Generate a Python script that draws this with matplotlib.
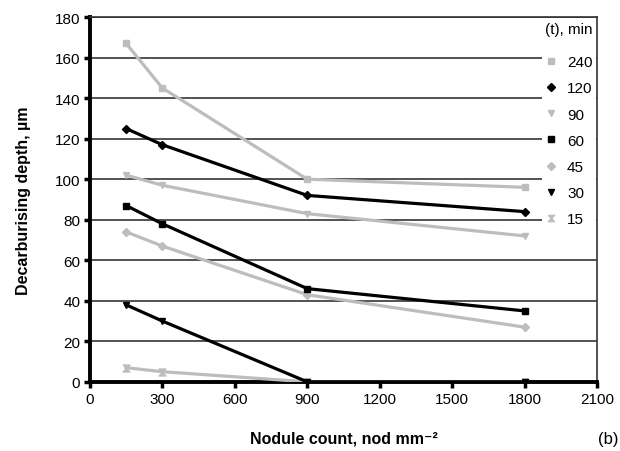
import matplotlib.pyplot as plt

plt.rcParams['font.family'] = ['Liberation Sans', 'DejaVu Sans']

# nodule count (nod mm^-2) and decarburising depth (um) per time (min)
nodules = [150, 300, 900, 1800]
times = ['240', '120', '90', '60', '45', '30', '15']
depth = {
    '240': [167, 145, 100, 96],
    '120': [125, 117, 92, 84],
    '90': [102, 97, 83, 72],
    '60': [87, 78, 46, 35],
    '45': [74, 67, 43, 27],
    '30': [38, 30, 0, 0],
    '15': [7, 5, 0, 0],
}

gray = '#bdbdbd'
hourglass = [(-1, 1), (1, 1), (-1, -1), (1, -1), (-1, 1)]
styles = {
    '240': (gray, 's'),
    '120': ('black', 'D'),
    '90': (gray, 'v'),
    '60': ('black', 's'),
    '45': (gray, 'D'),
    '30': ('black', 'v'),
    '15': (gray, hourglass),
}

fig = plt.figure(figsize=(6.2, 4.52), dpi=100)
ax = fig.add_axes([0.145, 0.153, 0.818, 0.807])

# draw short times first so the black 30 min line sits on top at depth 0
handles = {}
for i, t in enumerate(reversed(times)):
    color, marker = styles[t]
    ms = 4.5 if marker == 'D' else 5
    ax.plot(nodules, depth[t], color=color, lw=2.3, zorder=3 + 0.01 * i)
    h, = ax.plot(nodules, depth[t], ls='none', marker=marker, color=color,
                 markersize=ms, zorder=3.005 + 0.01 * i, label=t)
    handles[t] = h

ax.set_xlim(0, 2100)
ax.set_ylim(0, 180)
ax.set_xticks(range(0, 2101, 300))
ax.set_yticks(range(0, 181, 20))
ax.yaxis.grid(True, color='#444444', lw=1.3)
ax.set_axisbelow(True)

for s in ['left', 'bottom']:
    ax.spines[s].set_linewidth(2.8)
    ax.spines[s].set_color('black')
for s in ['top', 'right']:
    ax.spines[s].set_linewidth(1.2)
    ax.spines[s].set_color('#333333')
ax.tick_params(direction='out', length=4, width=2.5, labelsize=11, pad=3)

ax.set_ylabel('Decarburising depth, µm', fontsize=11.5, fontweight='bold', labelpad=17)
ax.set_xlabel('Nodule count, nod mm⁻²', fontsize=11.5, fontweight='bold', labelpad=18)
fig.text(0.997, 0.01, '(b)', fontsize=12, ha='right', va='bottom')

leg = ax.legend([handles[t] for t in times], times, title='(t), min',
                loc='upper right', bbox_to_anchor=(1.0, 1.0),
                fontsize=11, title_fontsize=11, frameon=True, fancybox=False,
                facecolor='white', edgecolor='none', framealpha=1,
                handlelength=0.7, handletextpad=0.7, labelspacing=0.8,
                borderaxespad=0.1, borderpad=0.2, alignment='right',
                markerscale=0.9)
leg._legend_box.sep = 14
leg.set_zorder(5)

fig.savefig('out.png', dpi=100)
